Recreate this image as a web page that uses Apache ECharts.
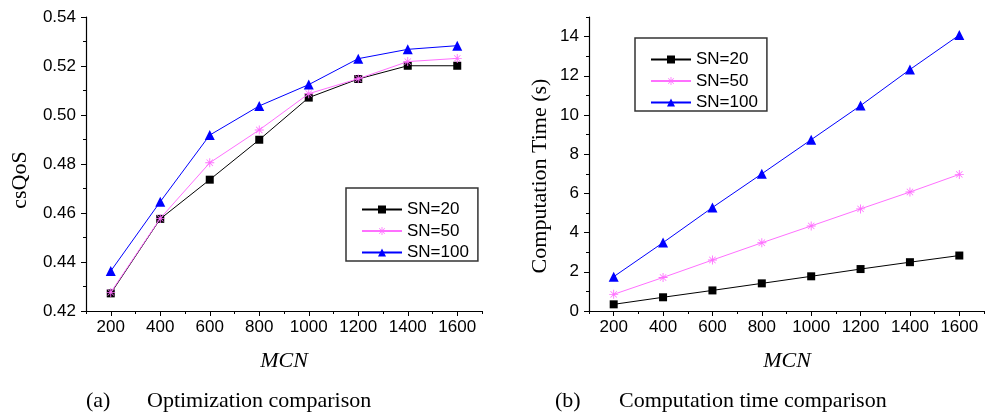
<!DOCTYPE html>
<html>
<head>
<meta charset="utf-8">
<style>html,body{margin:0;padding:0;background:#fff;}#chart{width:990px;height:417px;}</style>
<script src="https://cdn.jsdelivr.net/npm/echarts@6/dist/echarts.min.js"></script>
</head>
<body>
<div id="chart"></div>
<script>
// ---- data ----
const mcn = [200, 400, 600, 800, 1000, 1200, 1400, 1600];
const seriesNames = ['SN=20', 'SN=50', 'SN=100'];
const qos20  = [0.4272, 0.4576, 0.4736, 0.4899, 0.5071, 0.5147, 0.5201, 0.5201];
const qos50  = [0.4276, 0.4578, 0.4805, 0.4939, 0.5087, 0.5148, 0.5218, 0.5231];
const qos100 = [0.4363, 0.4646, 0.4918, 0.5037, 0.5124, 0.5230, 0.5268, 0.5283];
const time20  = [0.34, 0.70, 1.05, 1.41, 1.77, 2.14, 2.49, 2.83];
const time50  = [0.85, 1.71, 2.60, 3.48, 4.34, 5.21, 6.07, 6.97];
const time100 = [1.75, 3.49, 5.28, 7.00, 8.74, 10.48, 12.32, 14.08];
const mcnTicks = [200, 400, 600, 800, 1000, 1200, 1400, 1600];
const qosTicks = [0.42, 0.44, 0.46, 0.48, 0.50, 0.52, 0.54];
const timeTicks = [0, 2, 4, 6, 8, 10, 12, 14];

// ---- styles ----
const SANS = "Arial, 'Liberation Sans', sans-serif";
const SERIF = "'Times New Roman', 'Liberation Serif', serif";
const starPath = 'path://M0 9L20 9L20 11L0 11Z M9 0L11 0L11 20L9 20Z M3.5 2.36L17.64 16.5L16.5 17.64L2.36 3.5Z M17.64 3.5L3.5 17.64L2.36 16.5L16.5 2.36Z';
const styles = [
  {color: '#000000', symbol: 'rect', symbolSize: 8},
  {color: '#ff70ff', symbol: starPath, symbolSize: 9},
  {color: '#0000ff', symbol: 'triangle', symbolSize: 10}
];

const axisLine = {show: true, lineStyle: {color: '#000', width: 1.2}};
function mainX(grid) {
  return {
    type: 'value', gridIndex: grid, min: 100, max: 1700, interval: 100,
    axisLine: axisLine,
    axisTick: {show: true, inside: false, length: 5, customValues: mcnTicks, lineStyle: {color: '#000', width: 1}},
    axisLabel: {show: true, customValues: mcnTicks, margin: 8, color: '#000', fontSize: 17, fontFamily: SANS, formatter: v => String(v)},
    splitLine: {show: false}
  };
}
function minorX(grid) {
  return {
    type: 'value', gridIndex: grid, min: 100, max: 1700, interval: 100, position: 'bottom',
    axisLine: {show: false},
    axisTick: {show: true, inside: false, length: 3, lineStyle: {color: '#000', width: 1}},
    axisLabel: {show: false}, splitLine: {show: false}
  };
}
function mainY(grid, min, max, step, ticks, fmt) {
  return {
    type: 'value', gridIndex: grid, min: min, max: max, interval: step, position: 'left',
    axisLine: axisLine,
    axisTick: {show: true, inside: false, length: 5, customValues: ticks, lineStyle: {color: '#000', width: 1}},
    axisLabel: {show: true, customValues: ticks, margin: 10, color: '#000', fontSize: 17, fontFamily: SANS, formatter: fmt},
    splitLine: {show: false}
  };
}
function minorY(grid, min, max, step) {
  return {
    type: 'value', gridIndex: grid, min: min, max: max, interval: step, position: 'left', offset: 0,
    axisLine: {show: false},
    axisTick: {show: true, inside: false, length: 3, lineStyle: {color: '#000', width: 1}},
    axisLabel: {show: false}, splitLine: {show: false}
  };
}
function pairs(ys) { return mcn.map((x, i) => [x, ys[i]]); }
function mkSeries(name, idx, ys, xi, yi) {
  const s = styles[idx];
  return {
    type: 'line', name: name, xAxisIndex: xi, yAxisIndex: yi, data: pairs(ys),
    symbol: s.symbol, symbolSize: s.symbolSize, showAllSymbol: true,
    lineStyle: {color: s.color, width: 1}, itemStyle: {color: s.color},
    emphasis: {disabled: true}, animation: false, z: 2 + idx
  };
}
function mkLegend(left, top) {
  return {
    data: seriesNames, orient: 'vertical', left: left, top: top,
    padding: [13, 9, 0, 15], itemWidth: 40, itemHeight: 10, itemGap: 4.5,
    borderColor: '#333', borderWidth: 1.5, backgroundColor: '#fff',
    textStyle: {fontSize: 17, lineHeight: 17, fontFamily: SANS, color: '#000'},
    selectedMode: false
  };
}
function txt(x, y, text, opts) {
  return Object.assign({
    type: 'text', x: x, y: y, silent: true,
    style: Object.assign({text: text, font: '22px ' + SERIF, fill: '#000', textAlign: 'left', textVerticalAlign: 'middle'}, opts && opts.style || {})
  }, opts && opts.rotation ? {rotation: opts.rotation} : {});
}

const chart = echarts.init(document.getElementById('chart'), null, {renderer: 'canvas'});
chart.setOption({
  animation: false,
  backgroundColor: '#fff',
  grid: [
    {left: 86, top: 17, width: 396, height: 294},
    {left: 589, top: 17, width: 395, height: 294}
  ],
  xAxis: [mainX(0), minorX(0), mainX(1), minorX(1)],
  yAxis: [
    mainY(0, 0.42, 0.54, 0.01, qosTicks, v => v.toFixed(2)),
    minorY(0, 0.42, 0.54, 0.01),
    mainY(1, 0, 15, 1, timeTicks, v => String(v)),
    minorY(1, 0, 15, 1)
  ],
  legend: [mkLegend(346, 188), mkLegend(635, 38)],
  series: [
    mkSeries('SN=20', 0, qos20, 0, 0),
    mkSeries('SN=50', 1, qos50, 0, 0),
    mkSeries('SN=100', 2, qos100, 0, 0),
    mkSeries('SN=20', 0, time20, 2, 2),
    mkSeries('SN=50', 1, time50, 2, 2),
    mkSeries('SN=100', 2, time100, 2, 2)
  ],
  graphic: [
    txt(20, 180, 'csQoS', {rotation: Math.PI / 2, style: {textAlign: 'center'}}),
    txt(540, 176, 'Computation Time (s)', {rotation: Math.PI / 2, style: {textAlign: 'center'}}),
    txt(284, 361, 'MCN', {style: {textAlign: 'center', font: 'italic 22px ' + SERIF}}),
    txt(787, 361, 'MCN', {style: {textAlign: 'center', font: 'italic 22px ' + SERIF}}),
    txt(86, 401, '(a)'),
    txt(147, 401, 'Optimization comparison'),
    txt(555, 401, '(b)'),
    txt(619, 401, 'Computation time comparison')
  ]
});
</script>
</body>
</html>
